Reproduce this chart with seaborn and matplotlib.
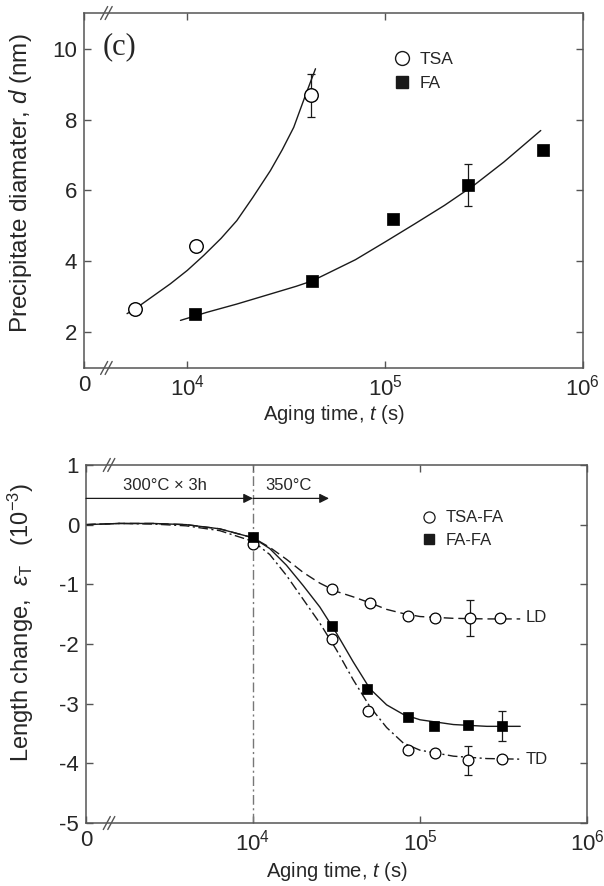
import matplotlib
matplotlib.use("Agg")
import matplotlib.pyplot as plt
from matplotlib.lines import Line2D
import seaborn as sns

# ---- panel (c): precipitate diameter ----
tsa_time = [5460, 11000, 42000]
tsa_d = [2.67, 4.45, 8.68]
tsa_err = [0, 0, 0.6]
fa_time = [10900, 42700, 110000, 263000, 630000]
fa_d = [2.52, 3.46, 5.2, 6.15, 7.15]
fa_err = [0, 0, 0, 0.6, 0]

tsa_fit_t = [4955, 5460, 8200, 10000, 12100, 14800, 17780, 21400, 26300, 30200,
             34510, 39540, 44460]
tsa_fit_d = [2.53, 2.67, 3.37, 3.75, 4.17, 4.65, 5.15, 5.8, 6.56, 7.15,
             7.78, 8.68, 9.43]
fa_fit_t = [9230, 12590, 17780, 25120, 35480, 42660, 50120, 70790, 100000,
            141250, 199530, 281840, 398110, 612350]
fa_fit_d = [2.34, 2.57, 2.8, 3.05, 3.3, 3.45, 3.64, 4.05, 4.55,
            5.06, 5.58, 6.15, 6.8, 7.69]

# ---- length change panel ----
ld_t = [10000, 29700, 50000, 85000, 123000, 200000, 300000]
ld_e = [-0.32, -1.08, -1.32, -1.53, -1.56, -1.56, -1.57]
ld_err = [0, 0, 0, 0, 0, 0.3, 0]
td_t = [29700, 48500, 85000, 123000, 195000, 310000]
td_e = [-1.92, -3.12, -3.78, -3.83, -3.95, -3.93]
td_err = [0, 0, 0, 0, 0.24, 0]
ff_t = [10000, 29700, 48000, 85000, 122000, 195000, 310000]
ff_e = [-0.2, -1.7, -2.75, -3.22, -3.38, -3.36, -3.38]
ff_err = [0, 0, 0, 0, 0, 0, 0.25]

fit_t = [1000, 1585, 2512, 3981, 6310, 10000, 12590, 15850, 19950, 25120,
         31620, 39810, 50120, 63100, 79430, 100000, 158500, 251200, 398100]
ld_fit = [0.0, 0.02, 0.02, 0.0, -0.07, -0.22, -0.38, -0.58, -0.8, -0.98,
          -1.12, -1.21, -1.31, -1.42, -1.49, -1.54, -1.57, -1.58, -1.58]
ff_fit = [0.0, 0.02, 0.02, 0.0, -0.07, -0.22, -0.4, -0.68, -1.02, -1.38,
          -1.82, -2.3, -2.75, -3.02, -3.18, -3.27, -3.35, -3.38, -3.38]
td_fit = [0.0, 0.02, 0.01, -0.02, -0.1, -0.28, -0.5, -0.85, -1.25, -1.65,
          -2.1, -2.6, -3.05, -3.4, -3.66, -3.78, -3.88, -3.92, -3.93]

top_xticks = [3000, 1e4, 1e5, 1e6]
bot_xticks = [1000, 1e4, 1e5, 1e6]
xticklabels = ["0", "10$^4$", "10$^5$", "10$^6$"]

sns.set_theme(style="ticks")
plt.rcParams["font.family"] = ["Liberation Sans", "DejaVu Sans"]
plt.rcParams["mathtext.fontset"] = "custom"
plt.rcParams["mathtext.rm"] = "Liberation Sans"
plt.rcParams["mathtext.it"] = "Liberation Sans:italic"
plt.rcParams["axes.unicode_minus"] = False

fig = plt.figure(figsize=(6.04, 8.86), dpi=100)
ax1 = fig.add_axes([0.139, 0.5847, 0.826, 0.4006])
ax2 = fig.add_axes([0.1424, 0.0711, 0.8295, 0.4041])

spine_c = "#555555"


def style_axes(ax, xt, yt):
    ax.set_xscale("log")
    ax.set_xticks(xt)
    ax.set_xticklabels(xticklabels)
    ax.minorticks_off()
    ax.set_yticks(yt)
    ax.tick_params(direction="in", top=True, right=True, length=5, width=1,
                   color=spine_c, labelsize=16, pad=5)
    for s in ax.spines.values():
        s.set_color(spine_c)
        s.set_linewidth(1.1)
        s.set_visible(True)


def draw_break(ax, xf):
    bb = ax.get_position()
    w = bb.width * fig.bbox.width
    h = bb.height * fig.bbox.height
    dx, dy, gap = 3.5 / w, 6.5 / h, 4.5 / w
    for yf in (0, 1):
        for off in (-gap / 2, gap / 2):
            ax.plot([xf + off - dx, xf + off + dx], [yf - dy, yf + dy],
                    transform=ax.transAxes, color=spine_c, lw=1, clip_on=False)


def add_err(ax, x, y, err):
    for xi, yi, ei in zip(x, y, err):
        if ei > 0:
            ax.errorbar([xi], [yi], yerr=[ei], fmt="none", ecolor="k",
                        elinewidth=0.9, capsize=3, capthick=0.9, zorder=3)


# ---------- top panel ----------
sns.lineplot(x=tsa_fit_t, y=tsa_fit_d, ax=ax1, color="k", lw=1, estimator=None, sort=False)
sns.lineplot(x=fa_fit_t, y=fa_fit_d, ax=ax1, color="k", lw=1, estimator=None, sort=False)
add_err(ax1, tsa_time, tsa_d, tsa_err)
add_err(ax1, fa_time, fa_d, fa_err)
sns.scatterplot(x=tsa_time, y=tsa_d, ax=ax1, marker="o", s=95, color="white",
                edgecolor="black", linewidth=1, zorder=4)
sns.scatterplot(x=fa_time, y=fa_d, ax=ax1, marker="s", s=85, color="black",
                edgecolor="black", linewidth=0.5, zorder=4)
ax1.set_xlim(3000, 1e6)
ax1.set_ylim(1, 11)
style_axes(ax1, top_xticks, [2, 4, 6, 8, 10])
ax1.set_xlabel("Aging time, $t$ (s)", fontsize=14.5)
ax1.set_ylabel("Precipitate diamater, $d$ (nm)", fontsize=17.5)
ax1.xaxis.set_label_coords(0.5, -0.1)
ax1.yaxis.set_label_coords(-0.10, 0.52)
ax1.text(0.072, 0.905, "(c)", transform=ax1.transAxes, fontsize=22,
         family="Liberation Serif", ha="center", va="center")
h1 = [Line2D([], [], ls="none", marker="o", ms=10, mfc="white", mec="k", mew=1),
      Line2D([], [], ls="none", marker="s", ms=9, mfc="k", mec="k")]
ax1.legend(h1, ["TSA", "FA"], loc="upper left", bbox_to_anchor=(0.585, 0.935),
           frameon=False, fontsize=12.5, handletextpad=0.4, labelspacing=0.5,
           handlelength=1.2)
draw_break(ax1, 0.045)

# ---------- bottom panel ----------
sns.lineplot(x=fit_t, y=ld_fit, ax=ax2, color="k", lw=1, ls=(0, (7, 3.5)),
             estimator=None, sort=False)
sns.lineplot(x=fit_t, y=ff_fit, ax=ax2, color="k", lw=1, estimator=None, sort=False)
sns.lineplot(x=fit_t, y=td_fit, ax=ax2, color="k", lw=1, ls=(0, (7, 2.5, 1.5, 2.5)),
             estimator=None, sort=False)
ax2.axvline(1e4, color="#777777", lw=1, ls=(0, (7, 2.5, 1.5, 2.5)), zorder=1)
add_err(ax2, ld_t, ld_e, ld_err)
add_err(ax2, td_t, td_e, td_err)
add_err(ax2, ff_t, ff_e, ff_err)
sns.scatterplot(x=ld_t + td_t, y=ld_e + td_e, ax=ax2, marker="o", s=60, color="white",
                edgecolor="black", linewidth=0.9, zorder=4)
sns.scatterplot(x=ff_t, y=ff_e, ax=ax2, marker="s", s=55, color="black",
                edgecolor="black", linewidth=0.5, zorder=5)
ax2.set_xlim(1000, 1e6)
ax2.set_ylim(-5, 1)
style_axes(ax2, bot_xticks, [-5, -4, -3, -2, -1, 0, 1])
ax2.set_xlabel("Aging time, $t$ (s)", fontsize=14.5)
ax2.set_ylabel(r"Length change,  $\varepsilon_{\rm T}$   (10$^{-3}$)", fontsize=17)
ax2.xaxis.set_label_coords(0.5, -0.104)
ax2.yaxis.set_label_coords(-0.10, 0.56)

arrow = dict(arrowstyle="-|>", color="k", lw=0.9, mutation_scale=14, shrinkA=0, shrinkB=0)
ax2.annotate("", xy=(1e4, 0.44), xytext=(1000, 0.44), arrowprops=arrow)
ax2.annotate("", xy=(28500, 0.44), xytext=(1e4, 0.44), arrowprops=arrow)
ax2.text(2970, 0.66, "300°C × 3h", fontsize=12, ha="center", va="center")
ax2.text(11800, 0.66, "350°C", fontsize=12, ha="left", va="center")
ax2.text(430000, -1.55, "LD", fontsize=12, ha="left", va="center")
ax2.text(430000, -3.93, "TD", fontsize=12, ha="left", va="center")

h2 = [Line2D([], [], ls="none", marker="o", ms=8, mfc="white", mec="k", mew=0.9),
      Line2D([], [], ls="none", marker="s", ms=7.5, mfc="k", mec="k")]
ax2.legend(h2, ["TSA-FA", "FA-FA"], loc="upper left", bbox_to_anchor=(0.635, 0.915),
           frameon=False, fontsize=12, handletextpad=0.4, labelspacing=0.45,
           handlelength=1.2)
draw_break(ax2, 0.046)

fig.savefig("out.png", dpi=100)
